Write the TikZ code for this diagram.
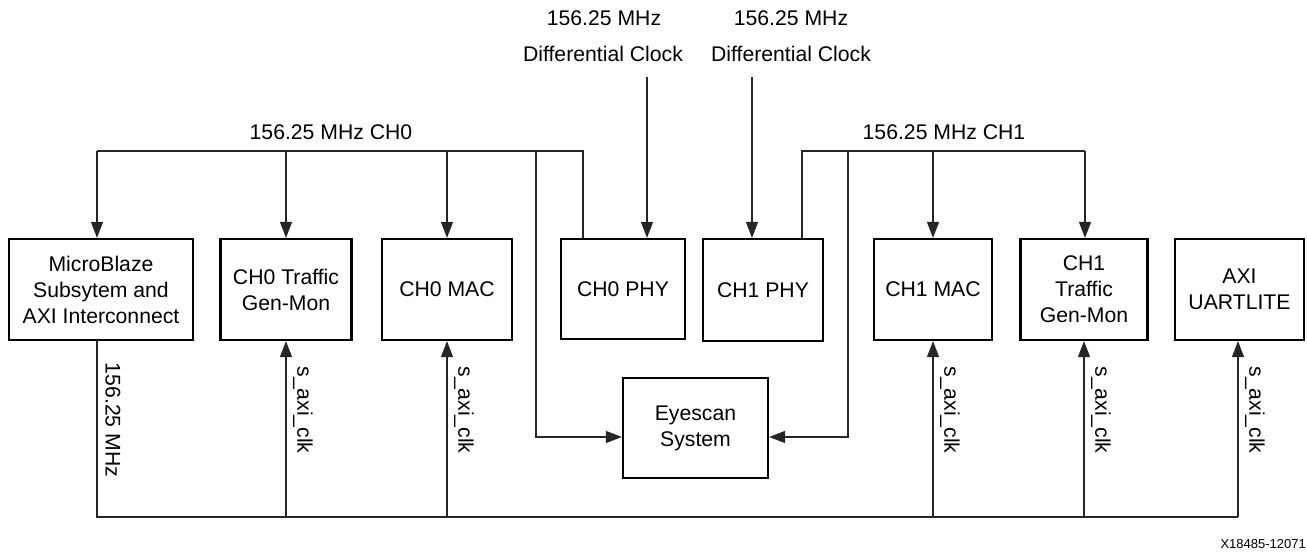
\documentclass[tikz,border=0pt]{standalone}
\usepackage{fontspec}
\setmainfont{Liberation Sans}
\usetikzlibrary{arrows.meta}
\begin{document}
\begin{tikzpicture}[x=1pt,y=-1pt,
  blk/.style={draw=black,line width=2.2pt,rectangle,inner sep=0pt,align=center,
    font=\fontsize{21.2}{26}\selectfont},
  lbl/.style={inner sep=0pt,font=\fontsize{21.2}{26}\selectfont},
  wire/.style={line width=1.1pt,draw=black!85},
  arr/.style={wire,-{Triangle[width=12pt,length=16pt]}},
  vlbl/.style={lbl,rotate=-90}]
\useasboundingbox (0,0) rectangle (1307,554);
% blocks
\node[blk,minimum width=184,minimum height=101] (mb) at (101,289.5) {MicroBlaze\\Subsytem and\\AXI Interconnect};
\node[blk,minimum width=131,minimum height=101] (tg0) at (286,289.5) {CH0 Traffic\\Gen-Mon};
\node[blk,minimum width=130,minimum height=101] (mac0) at (447,289.5) {CH0 MAC};
\node[blk,minimum width=124,minimum height=100] (phy0) at (623,289) {CH0 PHY};
\node[blk,minimum width=120,minimum height=102] (phy1) at (763,290) {CH1 PHY};
\node[blk,minimum width=118,minimum height=101] (mac1) at (933,289.5) {CH1 MAC};
\node[blk,minimum width=127,minimum height=101] (tg1) at (1084,289.5) {CH1\\Traffic\\Gen-Mon};
\node[blk,minimum width=129,minimum height=101] (uart) at (1239.5,289.5) {AXI\\UARTLITE};
\node[blk,minimum width=145,minimum height=100] (eye) at (695.5,428) {Eyescan\\System};
% top clock labels
\node[lbl] (d0a) at (604,18) {156.25 MHz};
\node[lbl] (d0b) at (603,54) {Differential Clock};
\node[lbl] (d1a) at (791,18) {156.25 MHz};
\node[lbl] (d1b) at (791,54) {Differential Clock};
\coordinate (clk0) at (647,77);
\coordinate (clk1) at (752,77);
\draw[arr] (clk0) -- (phy0.north -| clk0);
\draw[arr] (clk1) -- (phy1.north -| clk1);
% CH0 bus
\node[lbl] (b0lbl) at (331,132) {156.25 MHz CH0};
\coordinate (b0a) at (97,151);
\coordinate (b0e) at (583,151);
\coordinate (e0) at (536,151);
\coordinate (ey) at (0,437);
\draw[wire] (phy0.north -| b0e) -- (b0e) -- (b0a);
\draw[arr] (b0a) -- (mb.north -| b0a);
\draw[arr] (tg0.north |- b0a) -- (tg0.north);
\draw[arr] (mac0.north |- b0a) -- (mac0.north);
\draw[arr] (e0) |- (eye.west |- ey);
% CH1 bus
\node[lbl] (b1lbl) at (944,132) {156.25 MHz CH1};
\coordinate (b1a) at (802,151);
\coordinate (b1e) at (1085,151);
\coordinate (e1) at (848,151);
\draw[wire] (phy1.north -| b1a) -- (b1a) -- (b1e);
\draw[arr] (mac1.north |- b1a) -- (mac1.north);
\draw[arr] (b1e) -- (tg1.north -| b1e);
\draw[arr] (e1) |- (eye.east |- ey);
% bottom s_axi_clk bus
\coordinate (bl) at (97,517);
\coordinate (br) at (1238,517);
\draw[wire] (mb.south -| bl) -- (bl) -- (br);
\draw[arr] (tg0.south |- bl) -- (tg0.south);
\draw[arr] (mac0.south |- bl) -- (mac0.south);
\draw[arr] (mac1.south |- bl) -- (mac1.south);
\draw[arr] (tg1.south |- bl) -- (tg1.south);
\draw[arr] (br) -- (uart.south -| br);
% vertical labels
\node[vlbl] (mhz) at (113,420) {156.25 MHz};
\node[vlbl] (s0) at (303,410) {s\_axi\_clk};
\node[vlbl] (s1) at (464,410) {s\_axi\_clk};
\node[vlbl] (s2) at (950,410) {s\_axi\_clk};
\node[vlbl] (s3) at (1101,410) {s\_axi\_clk};
\node[vlbl] (s4) at (1255,410) {s\_axi\_clk};
% figure id
\node[inner sep=0pt,anchor=east,font=\fontsize{13}{15}\selectfont] (fid) at (1306,544) {X18485-12071};
\end{tikzpicture}
\end{document}
